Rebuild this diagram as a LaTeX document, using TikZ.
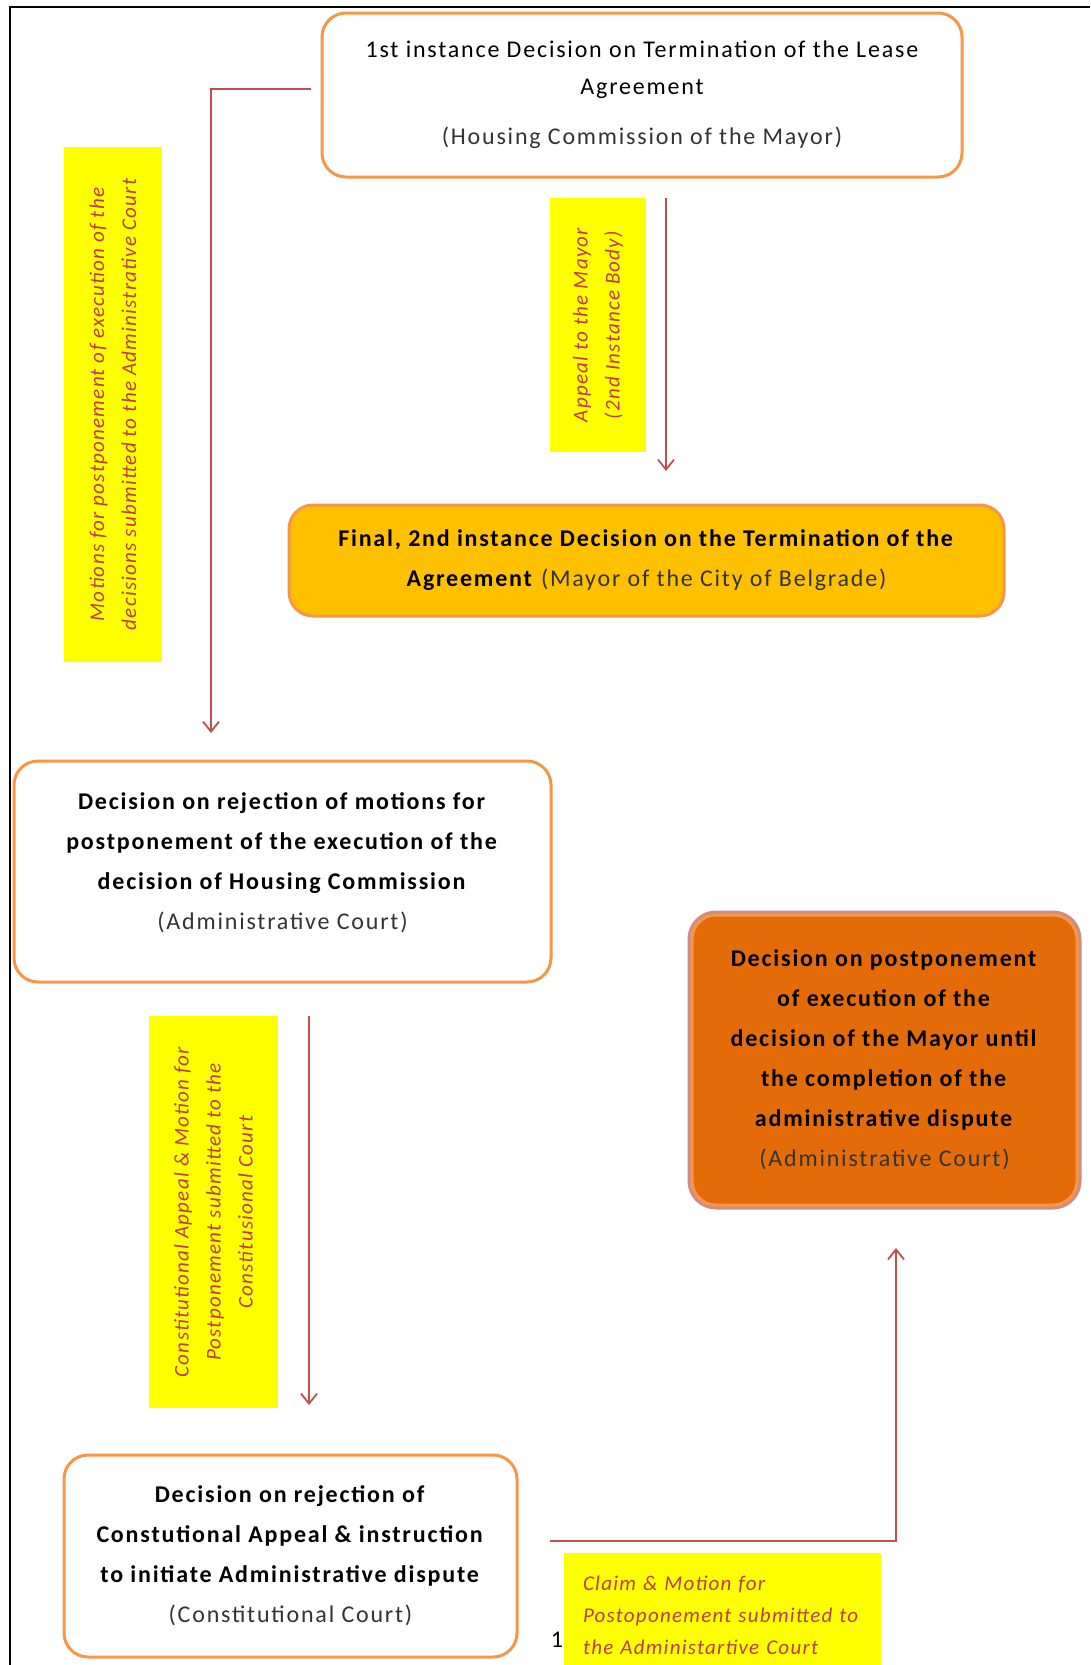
\documentclass[tikz,border=0pt]{standalone}
\usepackage{fontspec}
\setmainfont{Carlito}[LetterSpace=7.5]
\newfontfamily\lblfont{Carlito}[LetterSpace=6]
\usetikzlibrary{arrows.meta}
\definecolor{boxorange}{RGB}{247,150,70}
\definecolor{amber}{RGB}{255,192,0}
\definecolor{darkorange}{RGB}{227,108,9}
\definecolor{arrowred}{RGB}{192,80,77}
\definecolor{labelred}{RGB}{190,60,70}
\definecolor{glow}{RGB}{205,140,135}
\definecolor{lblyellow}{RGB}{255,255,0}
\begin{document}
\begin{tikzpicture}[x=1pt,y=-1pt,
  box/.style={draw=boxorange, line width=3pt, rounded corners=24pt, align=center, inner sep=0pt,
              font=\fontsize{24}{40}\selectfont},
  lbl/.style={fill=lblyellow, inner sep=0pt, text=labelred, align=center,
              font=\lblfont\fontsize{21}{32}\selectfont\itshape},
  conn/.style={draw=arrowred, line width=2pt, -{Straight Barb[length=10pt,width=16pt,line width=1.8pt]}},
]
\useasboundingbox (0,0) rectangle (1090,1665);
\fill[white] (0,0) rectangle (1090,1665);

% frame
\draw[line width=2pt] (1090,7) -- (10,7) -- (10,1665);

% boxes
\node[box, fill=white, minimum width=640pt, minimum height=164pt,
      font=\fontsize{24}{37}\selectfont] (first) at (642,95)
  {1st instance Decision on Termination of the Lease\\Agreement\\[13pt]
   \textcolor{black!80}{(Housing Commission of the Mayor)}};

\node[box, fill=amber, minimum width=715pt, minimum height=111pt] (final) at (646.5,560.5)
  {\textbf{Final, 2nd instance Decision on the Termination of the}\\
   \textbf{Agreement} \textcolor{black!80}{(Mayor of the City of Belgrade)}};

\node[box, fill=white, minimum width=537pt, minimum height=221pt] (rejmot) at (282.5,871.5)
  {\textbf{Decision on rejection of motions for}\\
   \textbf{postponement of the execution of the}\\
   \textbf{decision of Housing Commission}\\
   \textcolor{black!80}{(Administrative Court)}\rule[-21pt]{0pt}{0pt}};

\node[box, fill=darkorange, preaction={draw=glow, line width=9pt, rounded corners=26pt},
      minimum width=385pt, minimum height=290pt] (postp) at (884.5,1060)
  {\textbf{Decision on postponement}\\
   \textbf{of execution of the}\\
   \textbf{decision of the Mayor until}\\
   \textbf{the completion of the}\\
   \textbf{administrative dispute}\\
   \textcolor{black!80}{(Administrative Court)}};

\node[box, fill=white, minimum width=453pt, minimum height=202pt] (rejcon) at (290.5,1556)
  {\textbf{Decision on rejection of}\\
   \textbf{Constutional Appeal \& instruction}\\
   \textbf{to initiate Administrative dispute}\\
   \textcolor{black!80}{(Constitutional Court)}};

% yellow labels
\node[lbl, rotate=90, minimum width=515pt, minimum height=98pt] (lmotions) at (113,404.5)
  {Motions for postponement of execution of the\\decisions submitted to the Administrative Court};
\node[lbl, rotate=90, minimum width=254pt, minimum height=96pt] (lappeal) at (598,325)
  {Appeal to the Mayor\\(2nd Instance Body)};
\node[lbl, rotate=90, minimum width=392pt, minimum height=129pt] (lconst) at (213.5,1212)
  {Constitutional Appeal \& Motion for\\Postponement submitted to the\\Constitusional Court};
\node[lbl, align=left, text width=279pt, inner xsep=19pt, minimum height=124pt] (lclaim) at (722.5,1615)
  {Claim \& Motion for\\Postoponement submitted to\\the Administartive Court};

% page number
\node[font=\fontsize{24}{28}\selectfont] (pagenum) at (557,1640) {1};

% connectors
\coordinate (a1s) at (311,89);
\coordinate (a1e) at (211,733);
\draw[conn] (a1s) -| (a1e);

\coordinate (a2s) at (666,198);
\coordinate (a2e) at (666,471);
\draw[conn] (a2s) -- (a2e);

\coordinate (a3s) at (309,1016);
\coordinate (a3e) at (309,1405);
\draw[conn] (a3s) -- (a3e);

\coordinate (a4s) at (550,1541);
\coordinate (a4e) at (896,1248);
\draw[conn] (a4s) -| (a4e);
\end{tikzpicture}
\end{document}
